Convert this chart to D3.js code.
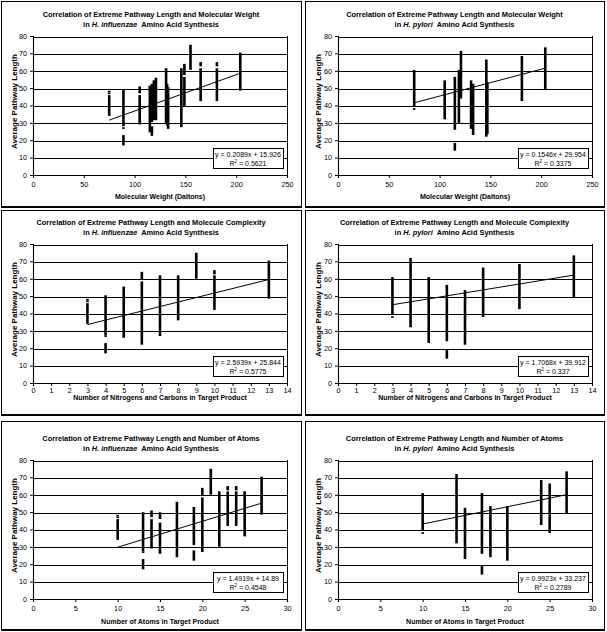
<!DOCTYPE html>
<html>
<head>
<meta charset="utf-8">
<script src="https://cdn.jsdelivr.net/npm/d3@7"></script>
<style>
  body { margin: 0; background: #fff; }
  svg { display: block; }
  text { font-family: "Liberation Sans", Arial, sans-serif; fill: #000; }
</style>
</head>
<body>
<div id="chart"></div>
<script>
// tick labels
const yTicks = [0, 10, 20, 30, 40, 50, 60, 70, 80]
const weightTicks = [0, 50, 100, 150, 200, 250]
const complexTicks = [0, 1, 2, 3, 4, 5, 6, 7, 8, 9, 10, 11, 12, 13, 14]
const atomTicks = [0, 5, 10, 15, 20, 25, 30]

const titleLines = [
  'Correlation of Extreme Pathway Length and Molecular Weight',
  'Correlation of Extreme Pathway Length and Molecule Complexity',
  'Correlation of Extreme Pathway Length and Number of Atoms'
]
const organisms = ['H. influenzae', 'H. pylori']
const xLabels = [
  'Molecular Weight (Daltons)',
  'Number of Nitrogens and Carbons in Target Product',
  'Number of Atoms in Target Product'
]
const yLabel = 'Average Pathway Length'

// regression: [row][col]
const slopes = [[0.2089, 0.1546], [2.5939, 1.7068], [1.4919, 0.9923]]
const intercepts = [[15.926, 29.954], [25.844, 39.912], [14.89, 33.237]]
const rSquared = [['0.5621', '0.3375'], ['0.5775', '0.337'], ['0.4548', '0.2789']]

// point runs: [x, lowest y, highest y]
const hiWeight = [
  [75, 34.5, 45.5], [75, 47, 47], [75, 48, 48],
  [89, 28.5, 49], [89, 27, 27], [89, 17.5, 22.5],
  [105, 29.5, 45.5], [105, 47.5, 50.5],
  [115, 25, 51],
  [117, 23, 27.5], [117, 31, 52],
  [119, 32, 54],
  [121, 32, 55.5],
  [131, 30, 61],
  [132, 29, 52],
  [133, 27, 47], [133, 48, 50],
  [146, 28, 61],
  [149, 40, 56], [149, 58, 63.5],
  [155, 61, 74.5],
  [165, 43, 61], [165, 63, 64.5],
  [181, 43, 61], [181, 63, 64.5],
  [204, 49, 70]
]
const hpWeight = [
  [75, 40, 60], [75, 38, 38],
  [105, 32.5, 54],
  [115, 26.5, 56], [115, 14.5, 18],
  [119, 30, 60],
  [121, 44.5, 71],
  [131, 27, 54],
  [133, 23.5, 52],
  [146, 22.5, 66],
  [147, 24, 53],
  [181, 43, 68],
  [204, 50, 73]
]
const hiComplex = [
  [3, 34.5, 45.5], [3, 47, 47], [3, 48, 48],
  [4, 28, 50], [4, 27, 27], [4, 17.5, 22.5],
  [5, 26.5, 55],
  [6, 22.5, 58], [6, 60, 63.5],
  [7, 27.5, 61.5],
  [8, 36.5, 61.5],
  [9, 60.5, 74.5],
  [10, 42.5, 61.5], [10, 63, 64.5],
  [13, 49, 70]
]
const hpComplex = [
  [3, 40, 60.5], [3, 38, 38],
  [4, 32.5, 71.5],
  [5, 23.5, 60.5],
  [6, 24.5, 56], [6, 14.5, 18.5],
  [7, 22.5, 53],
  [8, 38.5, 66],
  [10, 43, 68],
  [13, 50, 73]
]
const hiAtoms = [
  [10, 34.5, 45.5], [10, 47, 47], [10, 48, 48],
  [13, 28, 49.5], [13, 27, 27], [13, 17.5, 22.5],
  [14, 29.5, 45.5], [14, 47.5, 50.5],
  [15, 26.5, 43.5], [15, 46.5, 49.5],
  [17, 24.5, 55.5],
  [19, 31.5, 52.5], [19, 22.5, 27.5],
  [20, 27.5, 58], [20, 60, 63.5],
  [21, 60.5, 74.5],
  [22, 30.5, 61.5],
  [23, 42.5, 61.5], [23, 63, 64.5],
  [24, 42.5, 61.5], [24, 63, 64.5],
  [25, 36.5, 61.5],
  [27, 49, 70]
]
const hpAtoms = [
  [10, 40, 60.5], [10, 38, 38],
  [14, 32.5, 71.5],
  [15, 23.5, 52],
  [17, 26.5, 60.5], [17, 14.5, 18.5],
  [18, 24.5, 53],
  [20, 22.5, 53],
  [24, 43, 68],
  [25, 38.5, 66],
  [27, 50, 73]
]

const series = [[hiWeight, hpWeight], [hiComplex, hpComplex], [hiAtoms, hpAtoms]]
const xTickSets = [weightTicks, complexTicks, atomTicks]

// layout
const cols = [
  {left: 1, right: 301, plotL: 33, plotR: 287},
  {left: 305, right: 604, plotL: 338, plotR: 592}
]
const rows = [
  {top: 1, bottom: 206, plotT: 36, plotB: 175, tick: 10, xlab: 24},
  {top: 210, bottom: 414, plotT: 244, plotB: 383, tick: 8, xlab: 17},
  {top: 421, bottom: 629, plotT: 460, plotB: 599, tick: 10, xlab: 25}
]

const svg = d3.select('#chart').append('svg')
  .attr('width', 607)
  .attr('height', 632)

const frames = svg.append('g').attr('class', 'frames')
const layer = svg.append('g').attr('class', 'plots')

function drawPanel(r, c) {
  let row = rows[r], col = cols[c]
  let data = series[r][c]
  let ticks = xTickSets[r]

  frames.append('rect')
    .attr('x', col.left + 0.5).attr('y', row.top + 0.5)
    .attr('width', col.right - col.left).attr('height', row.bottom - row.top)
    .attr('fill', 'none').attr('stroke', '#000').attr('stroke-width', 1)
  frames.append('rect')
    .attr('x', col.left).attr('y', row.bottom + 0.5)
    .attr('width', col.right - col.left + 1).attr('height', 1.5)
    .attr('fill', '#000')

  let g = layer.append('g')

  let x = d3.scaleLinear().domain(d3.extent(ticks)).range([col.plotL, col.plotR])
  let y = d3.scaleLinear().domain([0, 80]).range([row.plotB, row.plotT])

  // gridlines via a second left axis with full-width ticks
  let grid = g.append('g')
    .attr('transform', `translate(${col.plotL + 0.5},0.5)`)
    .call(d3.axisLeft(y).tickValues(yTicks.slice(1)).tickSize(-(col.plotR - col.plotL)).tickFormat(''))
  grid.select('.domain').remove()
  grid.selectAll('.tick line')
    .attr('stroke', '#000').attr('stroke-width', 1)
    .attr('shape-rendering', 'crispEdges')
  g.append('line')
    .attr('x1', col.plotR + 0.5).attr('x2', col.plotR + 0.5)
    .attr('y1', y(80)).attr('y2', y(0))
    .attr('stroke', '#000').attr('stroke-width', 1)
    .attr('shape-rendering', 'crispEdges')

  // axes
  let yAxis = d3.axisLeft(y).tickValues(yTicks).tickSize(3).tickPadding(3)
  let xAxis = d3.axisBottom(x).tickValues(ticks).tickSize(3).tickPadding(row.tick - 6)
  let ya = g.append('g').attr('transform', `translate(${col.plotL},0)`).call(yAxis)
  let xa = g.append('g').attr('transform', `translate(0,${row.plotB})`).call(xAxis)
  for (let a of [ya, xa]) {
    a.select('.domain').attr('stroke', '#000').attr('stroke-width', 1.1)
    a.selectAll('.tick line').attr('stroke', '#000')
    a.selectAll('text').style('font-size', '7.3px').attr('fill', '#000')
  }

  // point runs
  g.append('g').selectAll('rect').data(data).join('rect')
    .attr('x', d => x(d[0]) - 1.3)
    .attr('y', d => y(d[2]) - 0.8)
    .attr('width', 2.6)
    .attr('height', d => y(d[1]) - y(d[2]) + 1.6)
    .attr('fill', '#000')

  // trend line
  let ext = d3.extent(data, d => d[0])
  let fit = v => slopes[r][c] * v + intercepts[r][c]
  g.append('line')
    .attr('x1', x(ext[0])).attr('y1', y(fit(ext[0])))
    .attr('x2', x(ext[1])).attr('y2', y(fit(ext[1])))
    .attr('stroke', '#000').attr('stroke-width', 1)

  // titles
  let cx = (col.left + col.right) / 2
  g.append('text')
    .attr('x', cx).attr('y', row.plotT - 19)
    .attr('text-anchor', 'middle')
    .style('font-size', '7.4px').style('font-weight', 'bold')
    .text(titleLines[r])
  let t2 = g.append('text')
    .attr('x', cx).attr('y', row.plotT - 9.5)
    .attr('text-anchor', 'middle')
    .style('font-size', '7.4px').style('font-weight', 'bold')
    .attr('xml:space', 'preserve')
  t2.append('tspan').text('in ')
  t2.append('tspan').style('font-style', 'italic').text(organisms[c])
  t2.append('tspan').text('  Amino Acid Synthesis')

  // axis titles
  g.append('text')
    .attr('x', (col.plotL + col.plotR) / 2).attr('y', row.plotB + row.xlab)
    .attr('text-anchor', 'middle')
    .style('font-size', '7px').style('font-weight', 'bold')
    .text(xLabels[r])
  let ly = (row.plotT + row.plotB) / 2 - 4
  let lx = col.left + 16
  g.append('text')
    .attr('transform', `translate(${lx},${ly}) rotate(-90)`)
    .attr('text-anchor', 'middle')
    .style('font-size', '8px').style('font-weight', 'bold')
    .text(yLabel)

  // equation box
  let bw = 70, bh = 20
  let bx = Math.round(col.plotR - 4 - bw), by = Math.round(row.plotB - 7 - bh)
  g.append('rect')
    .attr('x', bx + 0.5).attr('y', by + 0.5)
    .attr('width', bw).attr('height', bh)
    .attr('fill', '#fff').attr('stroke', '#000').attr('stroke-width', 1)
  g.append('text')
    .attr('x', bx + bw / 2).attr('y', by + 8.5)
    .attr('text-anchor', 'middle')
    .style('font-size', '7px')
    .text(`y = ${slopes[r][c]}x + ${intercepts[r][c]}`)
  let r2 = g.append('text')
    .attr('x', bx + bw / 2).attr('y', by + 17.5)
    .attr('text-anchor', 'middle')
    .style('font-size', '7px')
  r2.append('tspan').text('R')
  r2.append('tspan').attr('dy', -2.5).style('font-size', '4.5px').text('2')
  r2.append('tspan').attr('dy', 2.5).text(` = ${rSquared[r][c]}`)
}

for (let r = 0; r < 3; r++) {
  for (let c = 0; c < 2; c++) drawPanel(r, c)
}
</script>
</body>
</html>
